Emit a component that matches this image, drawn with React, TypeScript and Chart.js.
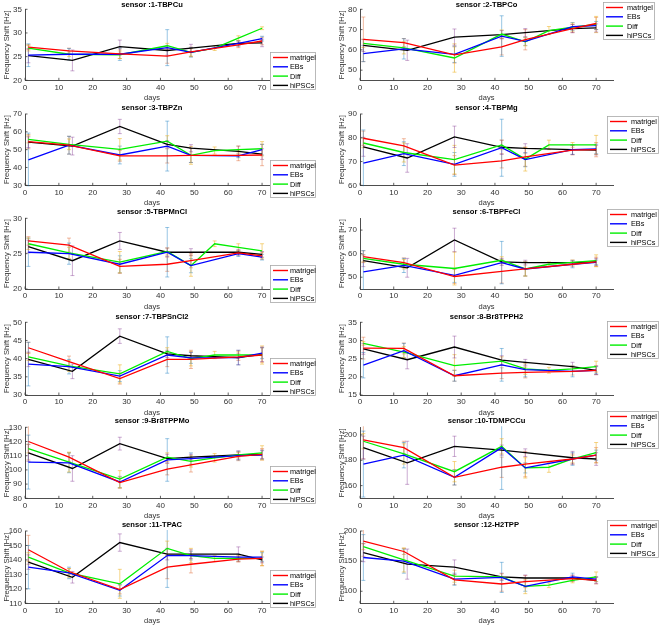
import React, { useEffect, useRef } from 'react';
import { Chart, registerables } from 'chart.js';
Chart.register(...registerables);

const W = 659;
const H = 625;

const SERIES = ['matrigel', 'EBs', 'Diff', 'hiPSCs'];
const LINE_COLORS = ['#ff0000', '#0000ff', '#00ee00', '#000000'];
const ERR_COLORS = ['rgba(217,83,25,0.45)', 'rgba(0,114,189,0.45)', 'rgba(237,177,32,0.6)', 'rgba(126,47,142,0.45)'];

const DAYS_MATRIGEL = [1, 13, 28, 42, 49, 63, 70];
const DAYS_EBS = [1, 13, 28, 42, 49, 63, 70];
const DAYS_DIFF = [1, 13, 28, 42, 49, 56, 63, 70];
const DAYS_HIPSCS = [1, 14, 28, 42, 49, 63, 70];
const DAYS = [DAYS_MATRIGEL, DAYS_EBS, DAYS_DIFF, DAYS_HIPSCS];
const X_TICKS = [0, 10, 20, 30, 40, 50, 60, 70];

const TITLES = [
  'sensor :1-TBPCu', 'sensor :2-TBPCo', 'sensor :3-TBPZn', 'sensor :4-TBPMg',
  'sensor :5-TBPMnCl', 'sensor :6-TBPFeCl', 'sensor :7-TBPSnCl2', 'sensor :8-Br8TPPH2',
  'sensor :9-Br8TPPMo', 'sensor :10-TDMPCCu', 'sensor :11-TPAC', 'sensor :12-H2TPP',
];

// means: [matrigel, EBs, Diff, hiPSCs]; errs same order
const S1_MEANS = [
  [27.0, 26.2, 25.6, 25.1, 26.0, 27.5, 28.3],
  [25.3, 25.5, 25.5, 26.9, 25.9, 27.8, 28.8],
  [26.8, 25.5, 25.4, 27.3, 25.9, 26.8, 28.9, 31.0],
  [25.2, 24.2, 27.1, 26.3, 26.8, 27.8, 27.9],
];
const S1_ERRS = [
  [0.5, 0.6, 1.0, 1.5, 1.0, 0.6, 0.8],
  [2.4, 1.2, 1.3, 3.8, 1.0, 0.6, 0.5],
  [0.6, 0.5, 0.8, 0.5, 0.8, 0.5, 0.5, 0.3],
  [1.5, 2.2, 1.4, 1.0, 0.8, 0.5, 0.8],
];
const S2_MEANS = [
  [65.2, 63.6, 57.5, 61.5, 65.0, 70.5, 73.0],
  [58.2, 60.5, 57.8, 66.8, 64.2, 71.5, 72.0],
  [63.2, 61.0, 56.0, 67.8, 64.0, 69.5, 71.2, 72.5],
  [62.2, 59.8, 66.3, 67.5, 68.5, 70.5, 70.8],
];
const S2_ERRS = [
  [11, 2, 4, 4, 5, 2, 3],
  [4, 5, 4, 10, 2, 2, 2],
  [2, 3, 7, 2, 2, 2, 2, 4],
  [3, 5, 4, 2, 2, 2, 2],
];
const S3_MEANS = [
  [54.5, 52.5, 46.5, 46.5, 46.8, 46.8, 47.0],
  [44.3, 52.5, 47.0, 52.0, 46.8, 46.5, 50.0],
  [55.8, 53.0, 50.2, 54.8, 46.8, 49.5, 50.0, 50.5],
  [54.2, 52.0, 63.0, 53.0, 50.8, 49.0, 47.5],
];
const S3_ERRS = [
  [4, 5, 3, 4, 4, 3, 6],
  [15, 5, 5, 14, 4, 1, 3],
  [2, 3, 6, 3, 5, 2, 2, 4],
  [3, 5, 4, 2, 2, 3, 3],
];
const S4_MEANS = [
  [79.8, 76.6, 68.5, 70.3, 72.0, 74.8, 75.0],
  [69.3, 73.3, 68.8, 75.8, 70.8, 75.0, 75.3],
  [77.8, 73.8, 70.8, 77.0, 71.0, 77.0, 77.0, 77.0],
  [76.2, 71.5, 80.4, 76.0, 75.5, 75.0, 74.8],
];
const S4_ERRS = [
  [3, 3, 4, 3, 4, 2, 3],
  [14, 5, 5, 12, 3, 2, 2],
  [2, 4, 6, 2, 5, 2, 1, 4],
  [4, 6, 4.5, 3, 2, 2, 2],
];
const S5_MEANS = [
  [26.8, 26.2, 23.2, 23.5, 24.0, 25.1, 24.7],
  [25.2, 25.0, 23.5, 25.2, 23.3, 25.0, 24.5],
  [26.4, 25.1, 23.8, 25.3, 23.3, 26.4, 25.9, 25.4],
  [26.0, 24.0, 26.8, 25.2, 25.2, 25.2, 24.9],
];
const S5_ERRS = [
  [0.6, 1.0, 1.0, 1.0, 1.0, 0.3, 0.5],
  [2.0, 1.5, 1.2, 3.5, 1.0, 0.4, 0.4],
  [0.8, 0.8, 1.5, 0.5, 1.5, 0.4, 0.5, 1.0],
  [0.9, 2.1, 1.2, 0.6, 0.5, 0.4, 0.4],
];
const S6_MEANS = [
  [58.7, 56.2, 50.3, 52.5, 53.5, 55.5, 56.5],
  [52.3, 55.0, 50.8, 56.2, 53.5, 55.5, 56.3],
  [58.0, 55.5, 53.7, 57.2, 53.5, 55.5, 56.3, 57.0],
  [57.0, 54.0, 65.8, 56.5, 56.2, 56.2, 56.5],
];
const S6_ERRS = [
  [2.5, 2, 3, 5, 3, 1, 2],
  [9, 3, 3, 9, 3, 1.5, 1],
  [1.5, 2, 7, 1.5, 3, 1, 1, 2.5],
  [2.5, 4, 5, 1.5, 1, 1, 1.5],
];
const S7_MEANS = [
  [43.0, 39.2, 34.5, 39.8, 39.8, 40.5, 41.0],
  [38.5, 37.8, 35.2, 41.0, 40.2, 40.3, 41.5],
  [40.5, 38.0, 35.8, 42.0, 40.0, 41.0, 41.0, 41.0],
  [39.8, 36.5, 46.2, 41.3, 40.8, 40.3, 41.2],
];
const S7_ERRS = [
  [1.5, 1.5, 1.5, 2, 2.5, 1, 2],
  [6, 2, 1.5, 5, 1.5, 2, 1.5],
  [1, 1.5, 2.5, 1, 2, 1, 1, 2.5],
  [2, 2, 2, 1, 1, 2, 2],
];
const S8_MEANS = [
  [27.9, 27.8, 20.3, 21.0, 21.2, 21.5, 21.8],
  [23.2, 27.2, 20.3, 23.3, 22.0, 21.5, 21.8],
  [29.2, 26.8, 23.1, 24.3, 22.2, 21.8, 22.2, 22.8],
  [27.7, 24.7, 28.2, 24.6, 24.0, 22.8, 21.8],
];
const S8_ERRS = [
  [3, 1.5, 1.5, 1.5, 1.5, 1, 1.2],
  [3.5, 2, 1.5, 4.5, 2, 1.5, 1],
  [0.5, 1.5, 3, 1.2, 1.5, 0.8, 0.8, 1.5],
  [1.5, 2.5, 3, 1.2, 0.8, 1.2, 1.2],
];
const S9_MEANS = [
  [120, 109, 91, 100.5, 103.5, 109.5, 111],
  [105.5, 105, 91.5, 107, 108, 110, 110.5],
  [115, 105.5, 93.5, 109, 106, 108.5, 110.5, 112],
  [112, 101, 118.5, 108, 109, 110.5, 111],
];
const S9_ERRS = [
  [13, 3, 4, 4, 5, 3, 4],
  [19, 7, 4, 15, 4, 3, 3],
  [3, 7, 6, 3, 4, 3, 2, 5],
  [6, 9, 4.5, 3, 2, 3, 3],
];
const S10_MEANS = [
  [196, 190, 166.5, 174.5, 177, 181, 184],
  [177, 184, 166.5, 190, 174, 181, 184],
  [195, 185, 171, 191, 174, 174.5, 181, 186],
  [190, 178, 191, 188, 186, 182, 181],
];
const S10_ERRS = [
  [15, 5, 6, 8, 10, 4, 6],
  [26, 10, 6, 33, 4, 5, 4],
  [6, 8, 8, 6, 8, 4, 3, 8],
  [9, 17, 8, 4, 3, 5, 5],
];
const S11_MEANS = [
  [147, 132, 119.5, 135, 137, 140.5, 141],
  [135, 131, 119, 143, 143, 142, 142],
  [142, 131, 123.5, 148, 143, 141, 141, 141],
  [138.5, 128, 152, 144, 144, 144, 140],
];
const S11_ERRS = [
  [10, 2, 3, 8, 6, 2, 5],
  [15, 4, 4, 22, 3, 2, 3],
  [3, 3, 10, 5, 5, 2, 2, 5],
  [5, 4, 6, 4, 3, 5, 2],
];
const S12_MEANS = [
  [183, 166, 119, 112, 116, 121, 118],
  [156, 150, 120, 123, 108, 124, 120],
  [174, 152, 125, 124, 108, 110, 118, 124],
  [164, 145, 140, 124, 122, 122, 118],
];
const S12_ERRS = [
  [25, 5, 8, 12, 10, 5, 6],
  [38, 20, 10, 25, 8, 6, 4],
  [5, 20, 10, 5, 12, 4, 4, 8],
  [15, 25, 12, 6, 5, 5, 5],
];

const MEANS = [S1_MEANS, S2_MEANS, S3_MEANS, S4_MEANS, S5_MEANS, S6_MEANS, S7_MEANS, S8_MEANS, S9_MEANS, S10_MEANS, S11_MEANS, S12_MEANS];
const ERRS = [S1_ERRS, S2_ERRS, S3_ERRS, S4_ERRS, S5_ERRS, S6_ERRS, S7_ERRS, S8_ERRS, S9_ERRS, S10_ERRS, S11_ERRS, S12_ERRS];

const Y_MIN = [20, 45, 30, 60, 20, 45, 30, 15, 80, 150, 110, 80];
const Y_MAX = [35, 80, 70, 90, 30, 75, 50, 35, 130, 206, 160, 200];
const Y_TICKS = [
  [20, 25, 30, 35], [50, 60, 70, 80],
  [30, 40, 50, 60, 70], [60, 70, 80, 90],
  [20, 25, 30], [50, 60, 70],
  [30, 35, 40, 45, 50], [15, 20, 25, 30, 35],
  [80, 90, 100, 110, 120, 130], [160, 180, 200],
  [110, 120, 130, 140, 150, 160], [100, 150, 200],
];

// layout
const ROW_TOPS = [9.3, 114, 218.3, 322.3, 427.3, 531];
const ROW_BOTTOMS = [80.3, 185.3, 289, 395, 498.3, 603.3];
const TITLE_Y = [5.3, 107.5, 212.3, 316.7, 420.5, 525];
const COL_LEFT = [25, 360];
const COL_RIGHT = [279, 613];
const LEGEND_POS = [
  [270, 52], [603, 2], [270, 160], [607, 116], [270, 265], [607, 209],
  [270, 358], [607, 321], [270, 466], [607, 411], [270, 570], [607, 520],
];
const FONT = "'Liberation Sans', Arial, Helvetica, sans-serif";
const AXIS_COLOR = '#3a3a3a';
const TEXT_COLOR = '#333333';
const YW = 25;
const XH = 22.5;

function makeConfig(i: number): any {
  const col = i % 2;
  const row = Math.floor(i / 2);
  const plotLeft = COL_LEFT[col];
  const plotRight = COL_RIGHT[col];
  const plotTop = ROW_TOPS[row];
  const plotBottom = ROW_BOTTOMS[row];
  const means = MEANS[i];
  const errs = ERRS[i];

  const datasets = SERIES.map((name, s) => ({
    label: name,
    data: DAYS[s].map((d, k) => ({ x: d, y: means[s][k] })),
    borderColor: LINE_COLORS[s],
    backgroundColor: LINE_COLORS[s],
    borderWidth: 1.3,
    pointRadius: 0,
    fill: false,
    tension: 0,
  }));

  const panelPlugin = {
    id: 'panel' + i,
    beforeDatasetsDraw(chart: any) {
      const { ctx, chartArea } = chart;
      const xs = chart.scales.x;
      const ys = chart.scales.y;
      ctx.save();
      ctx.beginPath();
      ctx.rect(chartArea.left, chartArea.top - 1, chartArea.right - chartArea.left, chartArea.bottom - chartArea.top + 2);
      ctx.clip();
      ctx.lineWidth = 0.9;
      SERIES.forEach((_, s) => {
        ctx.strokeStyle = ERR_COLORS[s];
        DAYS[s].forEach((d, k) => {
          const x = xs.getPixelForValue(d);
          const y1 = ys.getPixelForValue(means[s][k] + errs[s][k]);
          const y2 = ys.getPixelForValue(means[s][k] - errs[s][k]);
          ctx.beginPath();
          ctx.moveTo(x, y1);
          ctx.lineTo(x, y2);
          ctx.moveTo(x - 2, y1);
          ctx.lineTo(x + 2, y1);
          ctx.moveTo(x - 2, y2);
          ctx.lineTo(x + 2, y2);
          ctx.stroke();
        });
      });
      ctx.restore();
    },
    afterDraw(chart: any) {
      const { ctx, chartArea } = chart;
      const xs = chart.scales.x;
      const ys = chart.scales.y;
      ctx.save();
      // inward ticks
      ctx.strokeStyle = AXIS_COLOR;
      ctx.lineWidth = 0.8;
      ctx.beginPath();
      X_TICKS.forEach((v) => {
        const x = xs.getPixelForValue(v);
        ctx.moveTo(x, chartArea.bottom);
        ctx.lineTo(x, chartArea.bottom - 2.5);
      });
      Y_TICKS[i].forEach((v) => {
        const y = ys.getPixelForValue(v);
        ctx.moveTo(chartArea.left, y);
        ctx.lineTo(chartArea.left + 2.5, y);
      });
      ctx.stroke();
      // title
      ctx.fillStyle = '#000';
      ctx.font = `bold 7.6px ${FONT}`;
      ctx.textAlign = 'center';
      ctx.textBaseline = 'middle';
      ctx.fillText(TITLES[i], (chartArea.left + chartArea.right) / 2, TITLE_Y[row]);
      // legend
      const [lx, ly] = LEGEND_POS[i];
      const lw = col === 0 ? 46 : 52;
      const lh = 38;
      ctx.fillStyle = '#ffffff';
      ctx.fillRect(lx, ly, lw, lh);
      ctx.strokeStyle = '#a8a8a8';
      ctx.lineWidth = 0.8;
      ctx.strokeRect(lx + 0.5, ly + 0.5, lw - 1, lh - 1);
      ctx.font = `7.3px ${FONT}`;
      ctx.textAlign = 'left';
      SERIES.forEach((name, s) => {
        const yy = ly + 5.5 + s * 9.3;
        ctx.strokeStyle = LINE_COLORS[s];
        ctx.lineWidth = 1.4;
        ctx.beginPath();
        const l0 = col === 0 ? 3 : 3;
        const l1 = col === 0 ? 18 : 20;
        ctx.moveTo(lx + l0, yy);
        ctx.lineTo(lx + l1, yy);
        ctx.stroke();
        ctx.fillStyle = '#000';
        ctx.fillText(name, lx + (col === 0 ? 20 : 24), yy + 0.5);
      });
      ctx.restore();
    },
  };

  return {
    type: 'line',
    data: { datasets },
    options: {
      animation: false,
      responsive: false,
      maintainAspectRatio: false,
      events: [],
      layout: {
        padding: {
          left: plotLeft - YW,
          right: W - plotRight,
          top: plotTop,
          bottom: H - plotBottom - XH,
        },
      },
      plugins: { legend: { display: false }, tooltip: { enabled: false }, title: { display: false } },
      scales: {
        x: {
          type: 'linear',
          min: 0,
          max: 75,
          afterBuildTicks: (s: any) => { s.ticks = X_TICKS.map((v) => ({ value: v })); },
          afterFit: (s: any) => { s.height = XH; },
          grid: { drawOnChartArea: false, drawTicks: false },
          border: { display: true, color: AXIS_COLOR, width: 0.9 },
          ticks: { font: { family: FONT, size: 8 }, color: TEXT_COLOR, padding: 2.2, maxRotation: 0, autoSkip: false },
          title: { display: true, text: 'days', font: { family: FONT, size: 7.5 }, color: TEXT_COLOR, padding: { top: 0, bottom: 0 } },
        },
        y: {
          type: 'linear',
          min: Y_MIN[i],
          max: Y_MAX[i],
          afterBuildTicks: (s: any) => { s.ticks = Y_TICKS[i].map((v) => ({ value: v })); },
          afterFit: (s: any) => { s.width = YW; },
          grid: { drawOnChartArea: false, drawTicks: false },
          border: { display: true, color: AXIS_COLOR, width: 0.9 },
          ticks: { font: { family: FONT, size: 8 }, color: TEXT_COLOR, padding: 3, autoSkip: false },
          title: { display: true, text: 'Frequency Shift [Hz]', font: { family: FONT, size: 7.6 }, color: TEXT_COLOR, padding: { top: 2.7, bottom: 0 } },
        },
      },
    },
    plugins: [panelPlugin],
  };
}

function Panel({ index }: { index: number }) {
  const ref = useRef<HTMLCanvasElement | null>(null);
  useEffect(() => {
    if (!ref.current) return;
    const chart = new Chart(ref.current, makeConfig(index));
    return () => chart.destroy();
  }, [index]);
  return (
    <canvas
      ref={ref}
      width={W}
      height={H}
      style={{ position: 'absolute', left: 0, top: 0, width: W, height: H }}
    />
  );
}

export default function App() {
  return (
    <div style={{ position: 'absolute', left: 0, top: 0, width: W, height: H, background: '#ffffff' }}>
      {TITLES.map((_, i) => (
        <Panel key={i} index={i} />
      ))}
    </div>
  );
}
